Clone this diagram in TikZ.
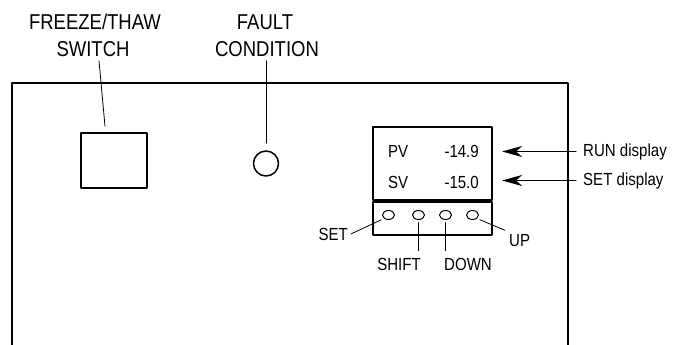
\documentclass[tikz,border=0pt]{standalone}
\usepackage{fontspec}
\setmainfont[FakeStretch=0.86]{Liberation Sans}
\usetikzlibrary{arrows.meta,shapes.geometric}
\begin{document}
\begin{tikzpicture}[x=1pt,y=-1pt,>={Stealth[length=20pt,width=11pt,inset=6pt]},
	line join=round, line cap=round,
	title/.style={anchor=base,font=\fontsize{21.5}{26}\selectfont},
	lbl/.style={font=\fontsize{17.5}{21}\selectfont,inner sep=3pt},
	lead/.style={line width=0.8pt},
	btn/.style={draw,ellipse,line width=1pt,minimum width=12pt,minimum height=9pt,inner sep=0pt}]
				%	\draw[color=gray!50,dashed] (0,0) grid[step=20] (680,345);
				\useasboundingbox (0,0) rectangle (680,345);
				\draw[line width=2pt] (12,345)--(12,83)--(568,83)--(568,345);
				% switch and fault lamp
				\node[title] (frz) at (95,30) {FREEZE/THAW};
				\node[title] (swt) at (93,57) {SWITCH};
				\node[title] (flt) at (265,30) {FAULT};
				\node[title] (cnd) at (267,57) {CONDITION};
				\node[draw,line width=1.6pt,minimum width=66pt,minimum height=55pt,inner sep=0pt] (swbox) at (114,160.5) {};
				\node[draw,circle,line width=1.5pt,minimum size=25pt,inner sep=0pt] (lamp) at (266,163.5) {};
				\draw[lead] ([xshift=6pt]swt.south)--([xshift=-9pt,yshift=6pt]swbox.north);
				\draw[lead] (cnd.south -| lamp)--([yshift=7pt]lamp.north);
				% controller
				\node[draw,line width=2.2pt,minimum width=119pt,minimum height=73pt,inner sep=0pt] (scr) at (432.5,163.5) {};
				\node[draw,line width=2.2pt,minimum width=119pt,minimum height=32.5pt,inner sep=0pt,anchor=north] (kpad) at (scr.south) {};
				\node[lbl,anchor=base west,inner sep=0pt] (pv) at (388,157) {PV};
				\node[lbl,anchor=base east,inner sep=0pt] (pvval) at (479,157) {-14.9};
				\node[lbl,anchor=base west,inner sep=0pt] (sv) at (388,188) {SV};
				\node[lbl,anchor=base east,inner sep=0pt] (svval) at (479,188) {-15.0};
				\node[lbl,anchor=west,inner sep=0pt,inner xsep=7pt] (run) at (576,151.5) {RUN display};
				\node[lbl,anchor=west,inner sep=0pt,inner xsep=7pt] (setd) at (576,180.5) {SET display};
				\draw[->,line width=1pt] (run.west)--([xshift=9pt]scr.east |- run.west);
				\draw[->,line width=1pt] (setd.west)--([xshift=9pt]scr.east |- setd.west);
				% keys
				\foreach \n/\x in {b1/388.5,b2/418.5,b3/445.5,b4/472.5}
					\node[btn] (\n) at (\x,215) {};
				\node[lbl,anchor=base east] (setk) at (351,240) {SET};
				\node[lbl,anchor=base east] (shiftk) at (424,270) {SHIFT};
				\node[lbl,anchor=base west] (downk) at (441,270) {DOWN};
				\node[lbl,anchor=base west] (upk) at (506,246) {UP};
				\draw[lead,shorten >=3pt] (setk.east)--(b1.south west);
				\draw[lead,shorten <=3pt,shorten >=1pt] (b4.south east)--(upk.north west);
				\draw[lead,shorten <=2.5pt,shorten >=4pt] (b2.south)--(b2.south |- shiftk.north);
				\draw[lead,shorten <=2.5pt,shorten >=4pt] (b3.south)--(b3.south |- downk.north);
	\end{tikzpicture}
\end{document}
